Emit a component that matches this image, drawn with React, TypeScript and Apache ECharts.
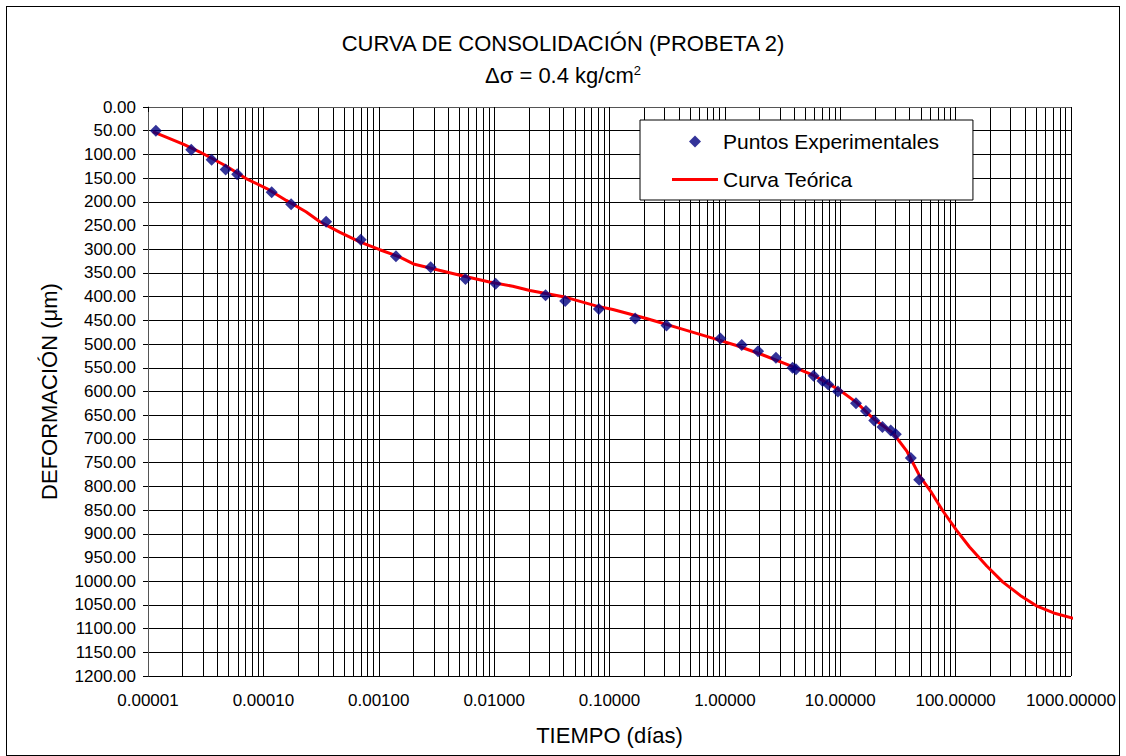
import React, { useEffect, useRef } from 'react';
import * as echarts from 'echarts';

const FONT = '"Liberation Sans", Arial, Helvetica, sans-serif';

// Experimental points: time (days) and deformation (µm)
const expTime = [0.0000117, 0.0000237, 0.0000356, 0.0000471, 0.0000593, 0.000118, 0.000174, 0.00035, 0.000698, 0.00141, 0.00282, 0.00564, 0.0103, 0.0279, 0.0413, 0.0809, 0.167, 0.312, 0.914, 1.40, 1.94, 2.77, 3.86, 4.13, 5.87, 7.03, 7.87, 9.55, 13.7, 16.7, 19.7, 23.2, 27.4, 30.3, 40.9, 48.3];
const expDef = [50, 90, 111, 132, 142, 180, 205, 242, 280, 315, 338, 363, 373, 397, 409, 426, 446, 461, 488, 502, 515, 529, 550, 553, 567, 578, 585, 600, 625, 641, 661, 675, 682, 690, 740, 786];

// Theoretical curve
const curveTime = [0.000011, 0.0000204, 0.0000282, 0.0000479, 0.0000708, 0.000107, 0.000158, 0.000234, 0.000309, 0.000457, 0.000692, 0.00102, 0.00151, 0.002, 0.00295, 0.00437, 0.00575, 0.00912, 0.0145, 0.0204, 0.0398, 0.0776, 0.107, 0.209, 0.407, 0.794, 1.26, 2.14, 3.63, 5.89, 10.0, 13.8, 19.5, 28.8, 38.0, 49.0, 61.7, 77.6, 102, 132, 186, 257, 363, 501, 708, 1150];
const curveDef = [52, 79, 95, 125, 151, 172, 197, 221, 242, 264, 285, 301, 316, 331, 341, 351, 358, 369, 378, 387, 400, 420, 427, 446, 467, 488, 503, 523, 545, 566, 598, 623, 658, 688, 727, 779, 813, 852, 893, 928, 968, 1002, 1030, 1052, 1067, 1081];

const xMin = 0.00001;
const xMax = 1000;
const yMin = 0;
const yMax = 1200;
const yStep = 50;

export default function App() {
  const ref = useRef<HTMLDivElement>(null);

  useEffect(() => {
    const chart = echarts.init(ref.current!, null, { renderer: 'svg' });
    chart.setOption({
      animation: false,
      backgroundColor: '#fff',
      textStyle: { fontFamily: FONT, color: '#000' },
      title: [
        {
          text: 'CURVA DE CONSOLIDACIÓN (PROBETA 2)',
          left: 'center',
          top: 25,
          padding: 0,
          textStyle: { fontFamily: FONT, fontSize: 22, fontWeight: 'normal', color: '#000' },
        },
        {
          text: '{a|Δσ = 0.4 kg/cm}{b|2}',
          left: 'center',
          top: 57,
          padding: 0,
          textStyle: {
            fontFamily: FONT,
            fontSize: 22,
            fontWeight: 'normal',
            color: '#000',
            rich: {
              a: { fontFamily: FONT, fontSize: 22, color: '#000' },
              b: { fontFamily: FONT, fontSize: 13, color: '#000', verticalAlign: 'top' },
            },
          },
        },
      ],
      legend: {
        left: 633,
        top: 113,
        orient: 'vertical',
        backgroundColor: '#fff',
        borderColor: '#000',
        borderWidth: 1,
        padding: [11, 34, 10, 32],
        itemWidth: 46,
        itemHeight: 12,
        itemGap: 17,
        symbolKeepAspect: true,
        textStyle: { fontFamily: FONT, fontSize: 21, color: '#000' },
        data: [
          { name: 'Puntos Experimentales', icon: 'path://M6,0 L12,6 L6,12 L0,6 Z', itemStyle: { color: '#000080' } },
          { name: 'Curva Teórica', icon: 'path://M0,0 L46,0 L46,3 L0,3 Z', itemStyle: { color: '#ff0000', borderWidth: 0 } },
        ],
      },
      grid: { left: 141, right: 48, top: 100, bottom: 79, containLabel: false },
      xAxis: {
        type: 'log',
        logBase: 10,
        min: xMin,
        max: xMax,
        name: 'TIEMPO (días)',
        nameLocation: 'middle',
        nameGap: 48,
        nameTextStyle: { fontFamily: FONT, fontSize: 22, color: '#000' },
        axisLine: { show: true, lineStyle: { color: '#555', width: 1 } },
        axisTick: { show: true, length: 5, inside: false, lineStyle: { color: '#000' } },
        axisLabel: {
          fontFamily: FONT,
          fontSize: 17,
          color: '#000',
          margin: 16,
          showMinLabel: true,
          showMaxLabel: true,
          formatter: (v: number) => v.toFixed(5),
        },
        splitLine: { show: true, lineStyle: { color: '#000', width: 1 } },
        minorTick: { show: false, splitNumber: 9 },
        minorSplitLine: { show: true, lineStyle: { color: '#000', width: 1 } },
      },
      yAxis: {
        type: 'value',
        inverse: true,
        min: yMin,
        max: yMax,
        interval: yStep,
        name: 'DEFORMACIÓN (μm)',
        nameLocation: 'middle',
        nameGap: 88,
        nameRotate: 90,
        nameTextStyle: { fontFamily: FONT, fontSize: 22, color: '#000' },
        axisLine: { show: true, lineStyle: { color: '#555', width: 1 } },
        axisTick: { show: true, length: 5, inside: false, lineStyle: { color: '#000' } },
        axisLabel: {
          fontFamily: FONT,
          fontSize: 17,
          color: '#000',
          margin: 12,
          formatter: (v: number) => v.toFixed(2),
        },
        splitLine: { show: true, lineStyle: { color: '#000', width: 1 } },
      },
      series: [
        {
          name: 'Puntos Experimentales',
          type: 'scatter',
          symbol: 'diamond',
          symbolSize: 12,
          itemStyle: { color: '#000080' },
          z: 3,
          data: expTime.map((t, i) => [t, expDef[i]]),
        },
        {
          name: 'Curva Teórica',
          type: 'line',
          showSymbol: false,
          symbol: 'none',
          clip: false,
          lineStyle: { color: '#ff0000', width: 3 },
          itemStyle: { color: '#ff0000' },
          z: 2,
          data: curveTime.map((t, i) => [t, curveDef[i]]),
        },
      ],
    });
    return () => chart.dispose();
  }, []);

  return (
    <div
      style={{
        position: 'absolute',
        left: 6,
        top: 6,
        width: 1114,
        height: 750,
        boxSizing: 'border-box',
        border: '1px solid #000',
        background: '#fff',
      }}
    >
      <div ref={ref} style={{ width: 1112, height: 748 }} />
    </div>
  );
}
